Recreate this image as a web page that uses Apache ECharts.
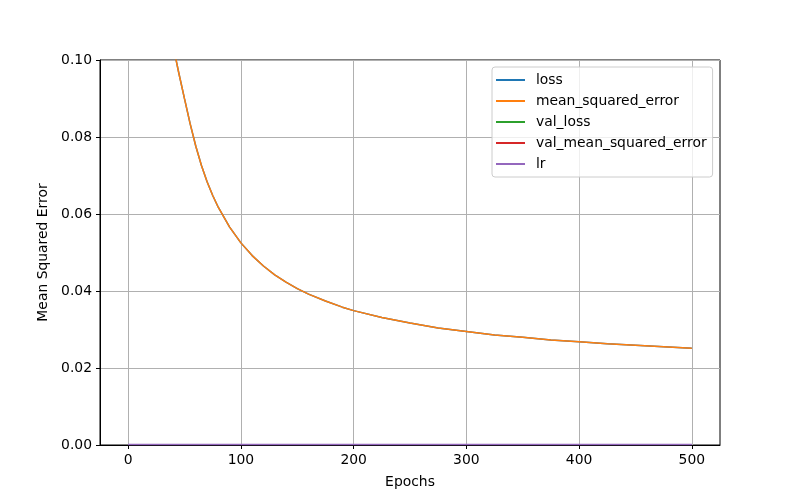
<!DOCTYPE html>
<html><head><meta charset="utf-8">
<script src="https://cdn.jsdelivr.net/npm/echarts@6/dist/echarts.min.js"></script>
<style>html,body{margin:0;padding:0;background:#fff}#c{width:800px;height:500px}</style>
</head><body><div id="c"></div>
<script>
const epochs = [0,10,20,30,35,40,45,50,55,60,65,70,75,80,90,100,110,120,130,140,150,160,175,190,200,225,250,275,300,325,350,375,400,425,450,475,500];
const mse    = [0.35,0.25,0.18,0.135,0.118,0.1035,0.0965,0.0899,0.0834,0.0776,0.0726,0.0684,0.0648,0.0617,0.0566,0.0525,0.0492,0.0465,0.0442,0.0423,0.0406,0.0392,0.0374,0.0358,0.0349,0.0331,0.0317,0.0304,0.0295,0.0286,0.0280,0.0273,0.0268,0.0263,0.0259,0.0255,0.0251];
const loss = mse.slice();
const valLoss = [];
const valMse = [];
const lrEpochs = [0,500];
const lr = [0.0001,0.0001];
const xTicks = [0,100,200,300,400,500];

const pair = (xs, ys) => xs.map((x,i)=>[x,ys[i]]);
const font = 'DejaVu Sans';
const fs = 13.9;
const chart = echarts.init(document.getElementById('c'), null, {renderer:'canvas'});
const mk = (name, color, data) => ({name, type:'line', data, showSymbol:false, symbol:'none', smooth:false, clip:true, lineStyle:{color, width:1.5}, itemStyle:{color}, animation:false});
chart.setOption({
  animation:false,
  textStyle:{fontFamily:font},
  grid:{left:100,right:80,top:60,bottom:55,show:true,borderColor:'#000',borderWidth:1,backgroundColor:'transparent'},
  legend:{
    orient:'vertical', left:492, top:67, padding:[6,6,6,4],
    backgroundColor:'rgba(255,255,255,0.8)', borderColor:'#cccccc', borderWidth:1, borderRadius:3,
    icon:'rect', itemWidth:29, itemHeight:2, itemGap:7,
    textStyle:{fontFamily:font, fontSize:fs, color:'#000', lineHeight:14, padding:[0,0,0,6]},
    data:['loss','mean_squared_error','val_loss','val_mean_squared_error','lr']
  },
  xAxis:{type:'value', min:-25, max:525,
    name:'Epochs', nameLocation:'middle', nameGap:30, nameTextStyle:{fontFamily:font,fontSize:fs,color:'#000'},
    axisLine:{show:true,onZero:false,lineStyle:{color:'#000'}},
    axisTick:{show:true,length:4,lineStyle:{color:'#000'},customValues:xTicks},
    axisLabel:{fontFamily:font,fontSize:fs,color:'#000',margin:8,customValues:xTicks},
    splitLine:{show:true,lineStyle:{color:'#b0b0b0',width:1}}
  },
  yAxis:{type:'value', min:0, max:0.1, interval:0.02,
    name:'Mean Squared Error', nameLocation:'middle', nameGap:44, nameTextStyle:{fontFamily:font,fontSize:fs,color:'#000'},
    axisLine:{show:true,onZero:false,lineStyle:{color:'#000'}},
    axisTick:{show:true,length:4,lineStyle:{color:'#000'}},
    axisLabel:{fontFamily:font,fontSize:fs,color:'#000',margin:8,formatter:v=>v.toFixed(2)},
    splitLine:{show:true,lineStyle:{color:'#b0b0b0',width:1}}
  },
  series:[
    mk('loss','#1f77b4',pair(epochs,loss)),
    mk('mean_squared_error','#ff7f0e',pair(epochs,mse)),
    mk('val_loss','#2ca02c',valLoss),
    mk('val_mean_squared_error','#d62728',valMse),
    mk('lr','#9467bd',pair(lrEpochs,lr))
  ]
});
</script></body></html>
